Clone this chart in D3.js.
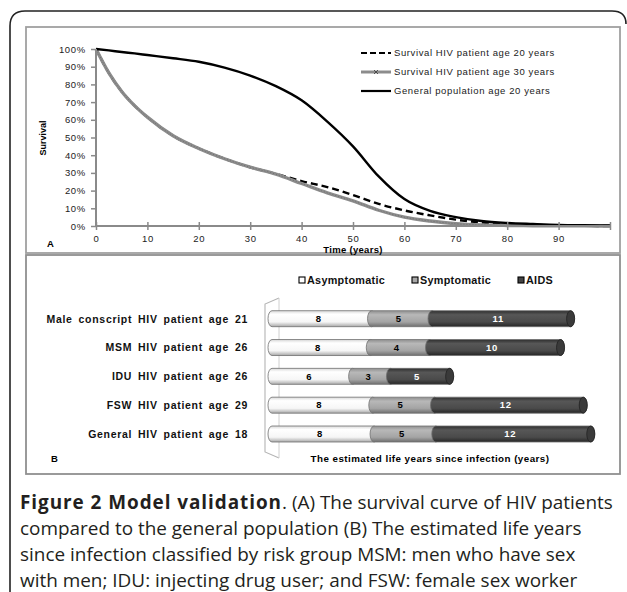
<!DOCTYPE html>
<html>
<head>
<meta charset="utf-8">
<script src="https://cdn.jsdelivr.net/npm/d3@7"></script>
<style>
  body { margin: 0; background: #fff; }
  text { font-family: "Liberation Sans", Arial, sans-serif; }
</style>
</head>
<body>
<svg id="fig" width="627" height="592"></svg>
<script>
// --- panel A data: survival (%) by time since infection (years)
const years   = [0, 2.5, 5, 7.5, 10, 15, 20, 25, 30, 35, 40, 45, 50, 55, 60, 65, 70, 75, 80, 85, 90, 95, 100];
const hiv20   = [100, 86.5, 76, 68, 61.5, 51, 43.8, 38, 33.2, 29.5, 25.4, 22, 17.5, 12.5, 8.8, 6.0, 3.6, 2.0, 1.1, 0.6, 0.3, 0.1, 0];
const hiv30   = [100, 86.5, 76, 68, 61.5, 51, 43.8, 38, 33.2, 29.3, 24, 18.7, 14.2, 8.9, 5, 2.8, 1.3, 0.6, 0.3, 0.15, 0.1, 0.05, 0];
const general = [100, 99.2, 98.3, 97.5, 96.6, 94.8, 92.8, 89.5, 85, 79, 71, 59, 45, 28, 15.2, 8.5, 5, 2.8, 1.7, 1.1, 0.6, 0.4, 0.3];
const seriesNames = ["Survival HIV patient age 20 years", "Survival HIV patient age 30 years", "General population age 20 years"];

// --- panel B data: life years since infection by stage
const groups = ["Male conscript HIV patient age 21", "MSM HIV patient age 26", "IDU HIV patient age 26", "FSW HIV patient age 29", "General HIV patient age 18"];
const stages = ["Asymptomatic", "Symptomatic", "AIDS"];
const asym   = [7.9, 7.8, 6.4, 8.0, 8.1];
const sympt  = [4.8, 4.7, 3.0, 4.9, 4.9];
const aids   = [11.0, 10.4, 4.7, 11.8, 12.3];
const asymLbl  = ["8", "8", "6", "8", "8"];
const symptLbl = ["5", "4", "3", "5", "5"];
const aidsLbl  = ["11", "10", "5", "12", "12"];

const svg = d3.select("#fig");

// outer frame + panel frames
svg.append("path")
  .attr("d", "M10,620 L10,26 Q10,11 25,11 L612,11 Q626,11 626,24")
  .attr("fill", "none").attr("stroke", "#222").attr("stroke-width", 1.6);
svg.append("rect").attr("x", 26).attr("y", 27).attr("width", 594).attr("height", 226)
  .attr("fill", "none").attr("stroke", "#a0a0a0").attr("stroke-width", 1.8);
svg.append("rect").attr("x", 26).attr("y", 255).attr("width", 594).attr("height", 219)
  .attr("fill", "none").attr("stroke", "#909090").attr("stroke-width", 1.8);

// ================= PANEL A =================
const x = d3.scaleLinear().domain([0, 100]).range([96, 610]);
const y = d3.scaleLinear().domain([0, 100]).range([226, 49]);

const gA = svg.append("g");

const line = d3.line()
  .x((d, i) => x(years[i]))
  .y(d => y(d))
  .curve(d3.curveMonotoneX);

gA.append("path").datum(hiv20).attr("d", line)
  .attr("fill", "none").attr("stroke", "#000").attr("stroke-width", 2.4)
  .attr("stroke-dasharray", "7,4");
gA.append("path").datum(hiv30).attr("d", line)
  .attr("fill", "none").attr("stroke", "#8c8c8c").attr("stroke-width", 3.4);
gA.append("path").datum(hiv30).attr("d", line)
  .attr("fill", "none").attr("stroke", "#555").attr("stroke-width", 0.9)
  .attr("stroke-dasharray", "1,2").attr("opacity", 0.6);
gA.append("path").datum(general).attr("d", line)
  .attr("fill", "none").attr("stroke", "#000").attr("stroke-width", 2.4);

// axes
const yAxis = d3.axisLeft(y).tickValues(d3.range(0, 101, 10))
  .tickSize(5).tickPadding(5).tickFormat(d => d + "%");
const xAxis = d3.axisBottom(x).tickValues(d3.range(0, 101, 10))
  .tickSize(4).tickPadding(5).tickFormat(d => d < 100 ? d : "");

const ya = gA.append("g").attr("transform", "translate(96,0)").call(yAxis);
const xa = gA.append("g").attr("transform", "translate(0,226)").call(xAxis);
[ya, xa].forEach(a => {
  a.select(".domain").attr("stroke", "#8a8a8a").attr("stroke-width", 2);
  a.selectAll(".tick line").attr("stroke", "#8a8a8a").attr("stroke-width", 1.5);
  a.selectAll(".tick text").attr("fill", "#222").style("font-size", "9.5px")
    .style("letter-spacing", "0.7px")
    .style("font-family", "'Liberation Sans', Arial, sans-serif");
});
xa.selectAll(".tick line").attr("y1", -4);
ya.select(".domain").attr("d", "M0," + y(100) + "V" + y(0));
xa.select(".domain").attr("d", "M" + x(0) + ",0H" + x(100));

gA.append("text").attr("transform", "translate(46,138) rotate(-90)")
  .attr("text-anchor", "middle").style("font-size", "9px").style("font-weight", "bold")
  .text("Survival");
gA.append("text").attr("x", 353).attr("y", 252.5).attr("text-anchor", "middle")
  .style("font-size", "9.5px").style("font-weight", "bold").style("letter-spacing", "0.3px")
  .text("Time (years)");
gA.append("text").attr("x", 47).attr("y", 247).style("font-size", "9.5px")
  .style("font-weight", "bold").text("A");

// legend A
const legA = gA.append("g");
const legY = [53, 72, 91];
legA.append("line").attr("x1", 361).attr("x2", 391).attr("y1", legY[0]).attr("y2", legY[0])
  .attr("stroke", "#000").attr("stroke-width", 2.2).attr("stroke-dasharray", "6,3");
legA.append("line").attr("x1", 361).attr("x2", 391).attr("y1", legY[1]).attr("y2", legY[1])
  .attr("stroke", "#8c8c8c").attr("stroke-width", 3);
legA.append("path").attr("d", `M374,${legY[1] - 2}l4,4M378,${legY[1] - 2}l-4,4`)
  .attr("stroke", "#444").attr("stroke-width", 0.9);
legA.append("line").attr("x1", 361).attr("x2", 391).attr("y1", legY[2]).attr("y2", legY[2])
  .attr("stroke", "#000").attr("stroke-width", 2.2);
seriesNames.forEach((s, i) => {
  legA.append("text").attr("x", 394).attr("y", legY[i] + 3.3)
    .style("font-size", "9.5px").style("letter-spacing", "0.6px")
    .attr("fill", "#222").text(s);
});

// ================= PANEL B =================
const xB = d3.scaleLinear().domain([0, 26]).range([272, 272 + 26 * 12.6]);
const yB = d3.scalePoint().domain(groups).range([318.7, 434]);
const barH = 16, rx = 4;

const defs = svg.append("defs");
const grads = [
  ["gAsym", [["0%", "#d8d8d8"], ["22%", "#ffffff"], ["70%", "#f6f6f6"], ["100%", "#a8a8a8"]]],
  ["gSym",  [["0%", "#8e8e8e"], ["25%", "#b8b8b8"], ["70%", "#a4a4a4"], ["100%", "#6e6e6e"]]],
  ["gAids", [["0%", "#2e2e2e"], ["25%", "#575757"], ["70%", "#4a4a4a"], ["100%", "#262626"]]]
];
grads.forEach(([id, stops]) => {
  const g = defs.append("linearGradient").attr("id", id)
    .attr("x1", 0).attr("x2", 0).attr("y1", 0).attr("y2", 1);
  stops.forEach(([o, c]) => g.append("stop").attr("offset", o).attr("stop-color", c));
});
const fills = ["url(#gAsym)", "url(#gSym)", "url(#gAids)"];
const legFill = ["#ffffff", "#a8a8a8", "#444444"];
const textFill = ["#000", "#000", "#fff"];

const gB = svg.append("g");

// 3D wall
gB.append("path")
  .attr("d", "M279,298 L265,304 L265,452 L279,458")
  .attr("fill", "none").attr("stroke", "#b4b4b4").attr("stroke-width", 1.1);
gB.append("line").attr("x1", 279).attr("x2", 279).attr("y1", 298).attr("y2", 458)
  .attr("stroke", "#d0d0d0").attr("stroke-width", 1);

function segPath(x0, x1, yc) {
  const t = yc - barH / 2, b = yc + barH / 2, ry = barH / 2;
  return `M${x0},${t}L${x1},${t}A${rx},${ry} 0 0 1 ${x1},${b}L${x0},${b}A${rx},${ry} 0 0 1 ${x0},${t}Z`;
}

const vals = [asym, sympt, aids];
const lbls = [asymLbl, symptLbl, aidsLbl];

groups.forEach((g, gi) => {
  const yc = yB(g);
  let acc = 0;
  vals.forEach((arr, si) => {
    const x0 = xB(acc), x1 = xB(acc + arr[gi]);
    gB.append("path").attr("d", segPath(x0, x1, yc))
      .attr("fill", fills[si]).attr("stroke", "#707070").attr("stroke-width", 0.8);
    gB.append("text").attr("x", (x0 + x1) / 2 - 3).attr("y", yc + 3.3)
      .attr("text-anchor", "middle").attr("fill", textFill[si])
      .style("font-size", "9.5px").style("font-weight", "bold").style("letter-spacing", "0.8px")
      .text(lbls[si][gi]);
    acc += arr[gi];
  });
  // end cap
  gB.append("ellipse").attr("cx", xB(acc)).attr("cy", yc).attr("rx", rx).attr("ry", barH / 2)
    .attr("fill", "#3a3a3a").attr("stroke", "#222").attr("stroke-width", 0.8);
  gB.append("text").attr("x", 248).attr("y", yc + 3.8).attr("text-anchor", "end")
    .style("font-size", "10.5px").style("font-weight", "bold")
    .style("letter-spacing", "0.7px").style("word-spacing", "2.3px")
    .attr("fill", "#111").text(g);
});

// legend B
const legX = [299, 412, 518];
stages.forEach((s, i) => {
  gB.append("rect").attr("x", legX[i]).attr("y", 277).attr("width", 6).attr("height", 6)
    .attr("fill", legFill[i]).attr("stroke", "#000").attr("stroke-width", 1.1);
  gB.append("text").attr("x", legX[i] + 8).attr("y", 284)
    .style("font-size", "10.8px").style("font-weight", "bold").style("letter-spacing", "0.3px")
    .attr("fill", "#111").text(s);
});

gB.append("text").attr("x", 430).attr("y", 462).attr("text-anchor", "middle")
  .style("font-size", "9.8px").style("font-weight", "bold").style("letter-spacing", "0.45px")
  .text("The estimated life years since infection (years)");
gB.append("text").attr("x", 51).attr("y", 462).style("font-size", "9.5px")
  .style("font-weight", "bold").text("B");

// ================= CAPTION =================
const capLines = [
  [["Figure 2 Model validation", true], [". (A) The survival curve of HIV patients", false]],
  [["compared to the general population (B) The estimated life years", false]],
  [["since infection classified by risk group MSM: men who have sex", false]],
  [["with men; IDU: injecting drug user; and FSW: female sex worker", false]]
];
const capBase = [509, 535, 561, 587];
const cap = svg.append("g")
  .style("font-family", "'Open Sans', sans-serif").style("font-size", "16px");
const capTexts = capLines.map((ln, i) => {
  const t = cap.append("text").attr("x", 20).attr("y", capBase[i]).attr("fill", "#231f20")
    .style("font-family", "'Open Sans', sans-serif");
  ln.forEach(([s, b]) => t.append("tspan").style("font-weight", b ? "bold" : "normal").text(s));
  return t;
});
// fit caption size to the original: body line ~562px wide, bold lead-in ~262px wide
const w2 = capTexts[1].node().getComputedTextLength();
const capSize = 16 * 562 / w2;
cap.style("font-size", capSize + "px");
const boldSpan = capTexts[0].select("tspan").node();
const wb = boldSpan.getComputedTextLength();
const nb = capLines[0][0][0].length;
d3.select(boldSpan).style("letter-spacing", Math.max(0, (262 - wb) / nb) + "px");
</script>
</body>
</html>
